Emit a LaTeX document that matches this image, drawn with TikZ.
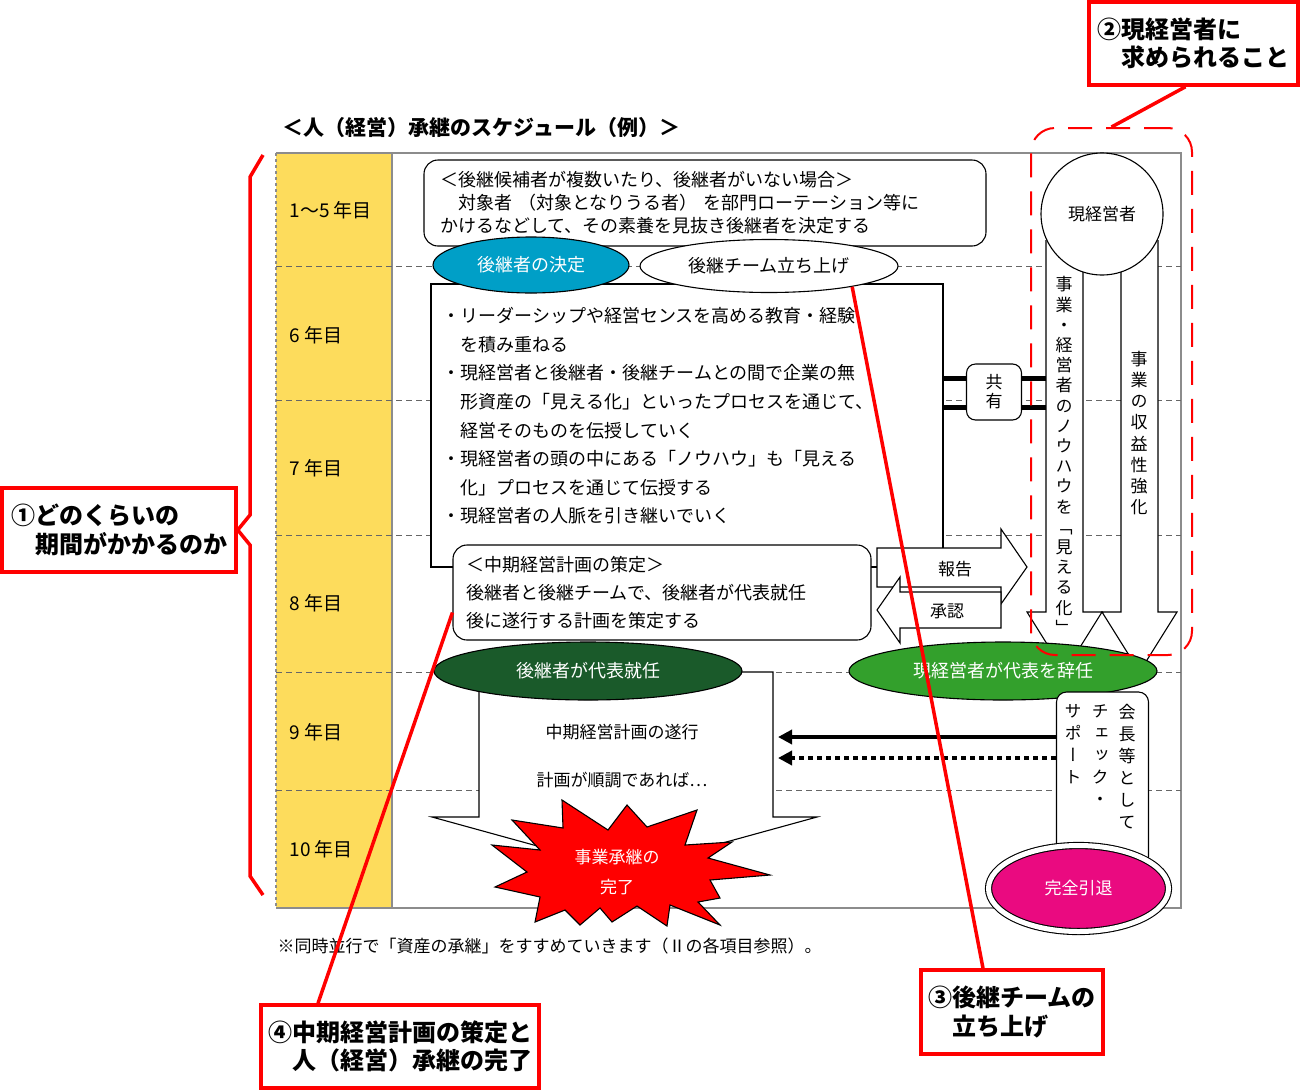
\documentclass[tikz,border=0pt]{standalone}
\usepackage{fontspec}
\setmainfont{Noto Sans CJK JP}
\newfontfamily\vertjp[RawFeature=+vert]{Noto Sans CJK JP}
\usetikzlibrary{shapes.geometric,arrows.meta}
\definecolor{yearyellow}{HTML}{FDDC5C}
\definecolor{succblue}{HTML}{009FC7}
\definecolor{leadgreen}{HTML}{1A5A2A}
\definecolor{quitgreen}{HTML}{33A02C}
\definecolor{retiremag}{HTML}{EA0A80}
\definecolor{framegray}{HTML}{8C8C8C}
\newcommand\fsz[2]{\fontsize{#1}{#2}\selectfont}
\tikzset{
  yr/.style={anchor=west,inner sep=0pt,font=\fsz{19}{21}},
  balloon/.style={draw,fill=white,rounded corners=14pt,align=left,font=\fsz{18}{23}},
  oval/.style={ellipse,draw,inner sep=0pt,font=\fsz{18}{21}},
  blockarrow/.style={draw,fill=white,line join=miter},
  vtext/.style={align=center,inner sep=0pt,font=\vertjp\fsz{17}{#1}},
  vtext/.default=21,
  callout/.style={draw=red,line width=3.5pt,fill=white,align=left,font=\bfseries\fsz{24}{28.5}},
  redline/.style={red,line width=3.5pt},
  rowline/.style={dash pattern=on 6pt off 4pt,black!60,line width=0.8pt},
  bar/.style={line width=5pt},
  arrline/.style={line width=4pt,-{Triangle[length=14pt,width=14pt]}},
  dotline/.style={dash pattern=on 5pt off 4pt},
}
\begin{document}
\begin{tikzpicture}[x=1pt,y=-1pt,line width=1.1pt]
\useasboundingbox (0,0) rectangle (1300,1090);
% table and years
\fill[yearyellow] (276,153) rectangle (392,908);
\draw[framegray] (276,153) -- (1181,153) -- (1181,908) -- (276,908);
\draw[framegray,dashed] (276,153) -- (276,908);
\draw[framegray] (392,153) -- (392,908);
\foreach \y in {266,400,535,672,790}
  \draw[rowline] (276,\y) -- (1181,\y);
\foreach \y/\t [count=\i] in {210/1～5 年目,335/6 年目,468/7 年目,603/8 年目,732/9 年目,849/10 年目}
  \node[yr] (yr\i) at (289,\y) {\t};
\node[font=\bfseries\fsz{21}{24},anchor=west,inner sep=0pt] (title) at (282,128) {＜人（経営）承継のスケジュール（例）＞};
% 1-5 years
\node[balloon,text width=530pt,inner xsep=16pt,minimum height=86] (cand) at (705,203)
  {＜後継候補者が複数いたり、後継者がいない場合＞\\　対象者 （対象となりうる者） を部門ローテーション等に\\かけるなどして、その素養を見抜き後継者を決定する};
% 6-7 years
\node[draw,fill=white,minimum width=512,minimum height=283] (edu) at (687,425.5) {};
\node[anchor=west,inner sep=0pt,align=left,font=\fsz{18}{28.6}] (edutext) at (442,416)
  {・リーダーシップや経営センスを高める教育・経験\\　を積み重ねる\\・現経営者と後継者・後継チームとの間で企業の無\\　形資産の「見える化」といったプロセスを通じて、\\　経営そのものを伝授していく\\・現経営者の頭の中にある「ノウハウ」も「見える\\　化」プロセスを通じて伝授する\\・現経営者の人脈を引き継いでいく};
\node[minimum width=55,minimum height=56] (share) at (994,392) {};
\foreach \dy in {-14,15}
  \draw[bar] (edu.east |- share.center) ++(0,\dy) -- ++(105,0);
\node[draw,fill=white,rounded corners=9pt,minimum width=55,minimum height=56,align=center,font=\fsz{17}{19}] at (share) {共\\有};
% current manager
\foreach \cx in {1064.5,1139.5}
  \draw[blockarrow] (\cx-18.5,240) -- (\cx-18.5,612) -- (\cx-37.5,612) -- (\cx,672) -- (\cx+37.5,612) -- (\cx+18.5,612) -- (\cx+18.5,240);
\node[circle,draw,fill=white,minimum size=122,font=\fsz{17}{20}] (boss) at (1102,214) {現経営者};
\node[vtext=20.2] (knowhow) at (1064,455.5) {事\\業\\・\\経\\営\\者\\の\\ノ\\ウ\\ハ\\ウ\\を\\「\\見\\え\\る\\化\\」};
\node[vtext=21.2] (profit) at (1139,433) {事\\業\\の\\収\\益\\性\\強\\化};
\node[oval,fill=succblue,text=white,minimum width=196,minimum height=56] (succ) at (531,265) {後継者の決定};
\node[oval,fill=white,minimum width=258,minimum height=53] (team) at (769,266) {後継チーム立ち上げ};
% 8 years
\draw[blockarrow] (877,548) -- (1001,548) -- (1001,529) -- (1027,567) -- (1001,604) -- (1001,587) -- (877,587) -- cycle;
\node[font=\fsz{17}{20}] (rep) at (955,569) {報告};
\draw[blockarrow] (1001,592) -- (900,592) -- (900,577) -- (877,610) -- (900,643) -- (900,628) -- (1001,628) -- cycle;
\node[font=\fsz{17}{20}] (appr) at (947,611) {承認};
\node[balloon,text width=392pt,inner xsep=13pt,minimum height=95,font=\fsz{18}{28}] (plan) at (662,592.5)
  {＜中期経営計画の策定＞\\後継者と後継チームで、後継者が代表就任\\後に遂行する計画を策定する};
% 9-10 years
\draw[blockarrow] (479,672) -- (479,817) -- (432,817) -- (624.5,870) -- (817,817) -- (773,817) -- (773,672) -- cycle;
\node[font=\fsz{17}{20}] (exec) at (622,732) {中期経営計画の遂行};
\node[font=\fsz{17}{20}] (ifok) at (622,780) {計画が順調であれば…};
\node[oval,fill=leadgreen,text=white,minimum width=308,minimum height=58] (lead) at (588,671) {後継者が代表就任};
\node[oval,fill=quitgreen,text=white,minimum width=308,minimum height=58] (quit) at (1003,671) {現経営者が代表を辞任};
\node[draw,fill=white,rounded corners=10pt,minimum width=92,minimum height=175] (sup) at (1102.5,779.5) {};
\node[vtext=22,anchor=north] (col1) at (1127,704) {会\\長\\等\\と\\し\\て};
\node[vtext=22,anchor=north] (col2) at (1100,704) {チ\\ェ\\ッ\\ク\\・};
\node[vtext=22,anchor=north] (col3) at (1073,704) {サ\\ポ\\ー\\ト};
\coordinate (chk) at (778,737);
\coordinate (sp) at (778,758);
\draw[arrline] (sup.west |- chk) -- (chk);
\draw[arrline,dotline] (sup.west |- sp) -- (sp);
\node[ellipse,draw,double=white,double distance=5pt,fill=retiremag,minimum width=180,minimum height=86,text=white,font=\fsz{17}{20}] (retire) at (1078.5,888.5) {完全引退};
% burst
\draw[fill=red,line join=miter] (562,800) -- (608,830) -- (627,805) -- (647,827) -- (697,810) -- (685,845) -- (732,842) -- (708,858) -- (770,875) -- (710,880) -- (720,898) -- (698,902) -- (720,925) -- (670,905) -- (667,926) -- (637,906) -- (612,922) -- (600,908) -- (580,925) -- (565,910) -- (535,922) -- (540,897) -- (495,887) -- (527,872) -- (492,845) -- (540,850) -- (512,820) -- (563,828) -- cycle;
\node[align=center,text=white,font=\fsz{17}{30}] (done) at (617,872) {事業承継の\\完了};
\node[anchor=west,inner sep=0pt,font=\fsz{17}{20}] (note) at (277,946) {※同時並行で「資産の承継」をすすめていきます（Ⅱの各項目参照）。};
% red notes
\node[draw=red,dash pattern=on 24pt off 14pt,line width=2pt,rounded corners=24pt,minimum width=161,minimum height=527] (know) at (1111.5,391.5) {};
\node[callout,minimum width=234,minimum height=84] (c1) at (119,530) {①どのくらいの\\　期間がかかるのか};
\node[callout,minimum width=209,minimum height=83] (c2) at (1193.5,43.5) {②現経営者に\\　求められること};
\node[callout,minimum width=182,minimum height=84] (c3) at (1012,1012) {③後継チームの\\　立ち上げ};
\node[callout,minimum width=278,minimum height=83] (c4) at (400,1046.5) {④中期経営計画の策定と\\　人（経営）承継の完了};
\draw[redline] (263,155) -- (250,177) -- (250,515) -- (c1.east) -- (250,545) -- (250,876) -- (263,895);
\draw[redline] ([xshift=-8]c2.south) -- (know.north);
\draw[redline] (team.-14) -- ([xshift=-29]c3.north);
\draw[redline] ([yshift=-20]plan.west) -- ([xshift=-82]c4.north);
\end{tikzpicture}
\end{document}
